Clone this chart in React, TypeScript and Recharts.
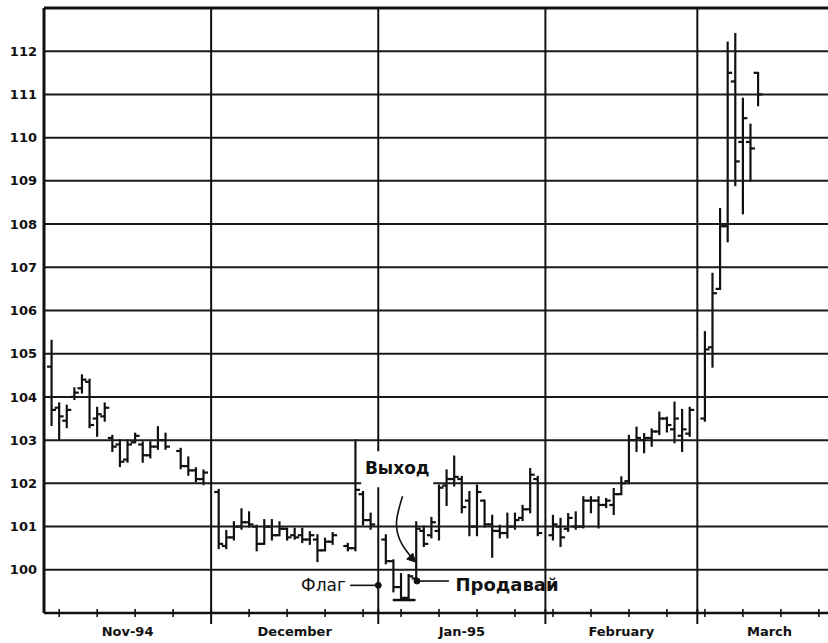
import React from 'react';
import {
  ComposedChart, Bar, Line, XAxis, YAxis, ReferenceLine, ReferenceDot, Label,
} from 'recharts';

// trading-day slot of each bar (slot 0 = left edge of the plot)
const DAY = [
  1, 2, 3, 4, 5, 6, 7, 8, 9, 10, 11, 12, 13, 14, 15, 16, 18, 19, 20, 21,
  23, 24, 25, 26, 27, 28, 29, 30, 31, 32, 33, 34, 35, 36, 37, 38, 40, 41, 42, 43,
  45, 46, 47, 48, 49, 50, 51, 52, 53, 54, 55, 56, 57, 58, 59, 60, 61, 62, 63, 64, 65,
  67, 68, 69, 70, 71, 72, 73, 74, 75, 76, 77, 78, 79, 80, 81, 82, 83, 84, 85,
  87, 88, 89, 90, 91, 92, 93, 94,
];

const OPEN = [
  104.7, 103.75, 103.45, 104.0, 104.2, 104.35, 103.5, 103.55, 103.05, 102.9, 102.55, 102.95, 102.9, 102.65, 102.85, 103.0, 102.75, 102.4, 102.3, 102.1,
  101.8, 100.55, 100.75, 101.0, 101.1, 101.0, 100.6, 101.0, 100.8, 100.95, 100.8, 100.8, 100.7, 100.7, 100.45, 100.65, 100.55, 100.5, 101.75, 101.15,
  100.7, 100.2, 99.6, 99.35, 99.8, 100.9, 100.8, 100.9, 101.95, 102.1, 102.1, 101.6, 101.0, 101.6, 101.05, 100.9, 100.85, 101.0, 101.2, 101.4, 102.1,
  100.8, 101.0, 100.95, 101.0, 101.0, 101.6, 101.6, 101.5, 101.5, 101.75, 102.05, 103.0, 103.0, 103.05, 103.2, 103.5, 103.25, 103.1, 103.15,
  103.5, 105.15, 106.5, 107.95, 111.3, 109.9, 109.9, 111.5,
];

const HIGH = [
  105.3, 103.85, 103.8, 104.2, 104.5, 104.4, 103.75, 103.85, 103.1, 103.0, 103.0, 103.15, 102.95, 102.95, 103.3, 103.15, 102.8, 102.6, 102.35, 102.3,
  101.85, 100.9, 101.1, 101.4, 101.33, 101.02, 101.15, 101.15, 101.1, 100.95, 100.95, 100.95, 100.87, 100.8, 100.72, 100.85, 100.6, 103.0, 101.8, 101.3,
  100.8, 100.22, 99.9, 99.88, 101.1, 101.0, 101.2, 101.95, 102.3, 102.62, 102.15, 101.8, 101.95, 101.6, 101.25, 101.02, 101.3, 101.3, 101.48, 102.33, 102.15,
  101.25, 101.18, 101.29, 101.33, 101.68, 101.68, 101.68, 101.64, 101.87, 102.14, 103.1, 103.29, 103.14, 103.25, 103.64, 103.52, 103.87, 103.7, 103.75,
  105.5, 106.85, 108.35, 112.2, 112.4, 110.9, 110.3, 111.5,
];

const LOW = [
  103.35, 103.02, 103.3, 103.95, 104.1, 103.3, 103.1, 103.45, 102.75, 102.4, 102.5, 102.95, 102.5, 102.6, 102.8, 102.8, 102.35, 102.2, 102.05, 101.98,
  100.5, 100.5, 100.7, 100.95, 101.0, 100.45, 100.6, 100.7, 100.8, 100.7, 100.72, 100.64, 100.6, 100.2, 100.45, 100.6, 100.45, 100.45, 101.05, 100.95,
  100.15, 99.5, 99.3, 99.3, 99.7, 100.55, 100.75, 100.7, 101.5, 101.95, 101.33, 100.8, 100.8, 101.0, 100.3, 100.75, 100.75, 100.95, 101.15, 101.33, 100.8,
  100.7, 100.55, 100.9, 100.95, 100.98, 101.33, 100.98, 101.45, 101.29, 101.75, 102.0, 102.75, 102.72, 102.87, 103.14, 103.2, 102.95, 102.75, 103.1,
  103.45, 104.7, 106.5, 107.6, 108.9, 108.25, 109.0, 110.75,
];

const CLOSE = [
  103.7, 103.55, 103.7, 104.1, 104.4, 103.35, 103.6, 103.75, 102.85, 102.5, 102.9, 103.1, 102.65, 102.85, 103.0, 102.85, 102.4, 102.3, 102.1, 102.25,
  100.6, 100.75, 101.0, 101.1, 101.05, 100.6, 101.0, 100.8, 100.95, 100.75, 100.75, 100.7, 100.8, 100.45, 100.65, 100.8, 100.5, 101.85, 101.15, 101.05,
  100.2, 99.6, 99.35, 99.85, 100.95, 100.6, 101.1, 101.9, 102.1, 102.15, 101.45, 101.0, 101.8, 101.05, 100.9, 100.85, 101.0, 101.15, 101.4, 102.2, 100.85,
  101.05, 100.75, 101.2, 101.0, 101.6, 101.6, 101.5, 101.6, 101.75, 102.0, 103.0, 103.05, 103.05, 103.2, 103.5, 103.35, 103.5, 103.25, 103.7,
  105.1, 106.4, 107.95, 111.5, 109.45, 110.45, 109.75, 111.0,
];

const Y_TICKS = [100, 101, 102, 103, 104, 105, 106, 107, 108, 109, 110, 111, 112];
const GRID_LEVELS = [100, 101, 102, 103, 104, 105, 106, 107, 108, 109, 110, 111, 112];
const Y_DOMAIN = [99, 113];
const X_DOMAIN = [0, 103.2];

const MONTH_STARTS = [22, 44, 66, 86];
const MONTH_EDGES = [0, 22, 44, 66, 86, 105];
const MONTH_LABELS = ['Nov-94', 'December', 'Jan-95', 'February', 'March'];
const WEEK_TICKS = [2, 7, 12, 17, 22, 27, 32, 37, 42, 47, 52, 57, 62, 67, 72, 77, 82, 87, 92, 97, 102];

// annotation anchors (in chart units)
const EXIT_CURVE = [
  { d: 47.2, v: 101.7 },
  { d: 46.4, v: 101.1 },
  { d: 47.1, v: 100.6 },
  { d: 48.8, v: 100.2 },
];
const FLAG_ARROW = { from: 40.3, to: 44, level: 99.64 };
const SELL_ARROW = { from: 53.3, to: 49.1, level: 99.74 };
const FLAG_BASE = { from: 45.9, to: 48.9, level: 99.3 };

const rows = DAY.map((d, i) => ({ d, o: OPEN[i], h: HIGH[i], l: LOW[i], c: CLOSE[i] }));
const monthCenters = MONTH_LABELS.map((_, i) => (MONTH_EDGES[i] + MONTH_EDGES[i + 1]) / 2);
const allTicks = Array.from(new Set([...WEEK_TICKS, ...MONTH_STARTS])).sort((a, b) => a - b);

const INK = '#111';
const FONT = '"DejaVu Sans", sans-serif';

function OhlcBar(props: any) {
  const { x, y, width, height, payload } = props;
  if (x == null || y == null) return null;
  const top = Math.min(y, y + height);
  const span = Math.abs(height);
  const cx = x + width / 2;
  const { o, h, l, c } = payload;
  const toY = (v: number) => (h === l ? top : top + ((h - v) / (h - l)) * span);
  return (
    <g stroke={INK} strokeWidth={2.2}>
      <line x1={cx} x2={cx} y1={top - 1} y2={top + span + 1} />
      <line x1={cx - 4.5} x2={cx} y1={toY(o)} y2={toY(o)} />
      <line x1={cx} x2={cx + 4.5} y1={toY(c)} y2={toY(c)} />
    </g>
  );
}

function WeekTick(props: any) {
  const { x, y, payload } = props;
  const isMonth = MONTH_STARTS.includes(payload.value);
  return (
    <line
      x1={x} x2={x}
      y1={y - 4} y2={y + (isMonth ? 11 : 4)}
      stroke={INK}
      strokeWidth={isMonth ? 2 : 1.6}
    />
  );
}

function ArrowDot(props: any) {
  const { cx, cy, index } = props;
  if (index !== EXIT_CURVE.length - 1) return <g key={`a${index}`} />;
  return (
    <path
      key="head"
      d={`M${cx + 1},${cy + 1} L${cx - 8},${cy - 2} L${cx - 2},${cy - 8} Z`}
      fill={INK}
      stroke={INK}
      strokeWidth={1}
    />
  );
}

function ExitLabel(props: any) {
  const { viewBox } = props;
  const cx = viewBox.x + viewBox.width / 2;
  const cy = viewBox.y + viewBox.height / 2;
  return (
    <g>
      <rect x={cx - 36} y={cy - 17} width={72} height={36} fill="#fff" />
      <text
        x={cx} y={cy}
        textAnchor="middle" dominantBaseline="central"
        fontFamily={FONT} fontWeight="bold" fontSize={17} fill={INK}
      >
        Выход
      </text>
    </g>
  );
}

export default function App() {
  return (
    <div style={{ position: 'absolute', left: 0, top: 0, background: '#fff' }}>
      <ComposedChart
        width={828}
        height={643}
        data={rows}
        margin={{ top: 8, right: 0, bottom: 0, left: 0 }}
      >
        <XAxis
          dataKey="d"
          type="number"
          domain={X_DOMAIN}
          allowDataOverflow
          ticks={allTicks}
          interval={0}
          tickSize={0}
          tickMargin={0}
          tickLine={false}
          tick={<WeekTick />}
          height={10}
          axisLine={{ stroke: INK, strokeWidth: 2.5 }}
        />
        <XAxis
          xAxisId="months"
          dataKey="d"
          type="number"
          domain={X_DOMAIN}
          allowDataOverflow
          ticks={monthCenters}
          interval={0}
          tickFormatter={(v: number) => MONTH_LABELS[monthCenters.indexOf(v)] ?? ''}
          axisLine={false}
          tickLine={false}
          tickSize={0}
          tickMargin={4}
          height={20}
          tick={{ fontFamily: FONT, fontWeight: 'bold', fontSize: 13, fill: INK }}
        />
        <YAxis
          type="number"
          domain={Y_DOMAIN}
          allowDataOverflow
          ticks={Y_TICKS}
          interval={0}
          width={44}
          tickLine={false}
          tickSize={0}
          tickMargin={7}
          axisLine={{ stroke: INK, strokeWidth: 3 }}
          tick={{ fontFamily: FONT, fontWeight: 'bold', fontSize: 13, fill: INK }}
        />

        {GRID_LEVELS.map((v) => (
          <ReferenceLine key={`g${v}`} y={v} stroke="#1a1a1a" strokeWidth={2} />
        ))}
        <ReferenceLine y={Y_DOMAIN[1]} stroke={INK} strokeWidth={3} />
        {MONTH_STARTS.map((m) => (
          <ReferenceLine key={`m${m}`} x={m} stroke={INK} strokeWidth={2} />
        ))}

        <Bar
          dataKey={(r: any) => [r.l, r.h]}
          barSize={6}
          shape={(p: any) => <OhlcBar {...p} />}
          isAnimationActive={false}
        />

        <ReferenceLine
          segment={[{ x: FLAG_BASE.from, y: FLAG_BASE.level }, { x: FLAG_BASE.to, y: FLAG_BASE.level }]}
          stroke={INK}
          strokeWidth={2.5}
        />
        <ReferenceLine
          segment={[{ x: FLAG_ARROW.from, y: FLAG_ARROW.level }, { x: FLAG_ARROW.to, y: FLAG_ARROW.level }]}
          stroke={INK}
          strokeWidth={1.6}
        />
        <ReferenceDot x={FLAG_ARROW.to} y={FLAG_ARROW.level} r={3} fill={INK} stroke={INK} />
        <ReferenceDot x={FLAG_ARROW.from - 0.3} y={FLAG_ARROW.level} r={0} stroke="none">
          <Label value="Флаг" position="left" offset={2} fontFamily={FONT} fontSize={17} fill={INK} />
        </ReferenceDot>

        <ReferenceLine
          segment={[{ x: SELL_ARROW.from, y: SELL_ARROW.level }, { x: SELL_ARROW.to, y: SELL_ARROW.level }]}
          stroke={INK}
          strokeWidth={1.6}
        />
        <ReferenceDot x={SELL_ARROW.to} y={SELL_ARROW.level} r={3} fill={INK} stroke={INK} />
        <ReferenceDot x={SELL_ARROW.from + 0.6} y={SELL_ARROW.level - 0.08} r={0} stroke="none">
          <Label value="Продавай" position="right" offset={2} fontFamily={FONT} fontWeight="bold" fontSize={18} fill={INK} />
        </ReferenceDot>

        <ReferenceDot x={46.5} y={102.35} r={0} stroke="none">
          <Label content={<ExitLabel />} />
        </ReferenceDot>

        <Line
          data={EXIT_CURVE}
          dataKey="v"
          type="natural"
          stroke={INK}
          strokeWidth={1.6}
          dot={(p: any) => <ArrowDot {...p} />}
          activeDot={false}
          isAnimationActive={false}
        />
      </ComposedChart>
    </div>
  );
}
